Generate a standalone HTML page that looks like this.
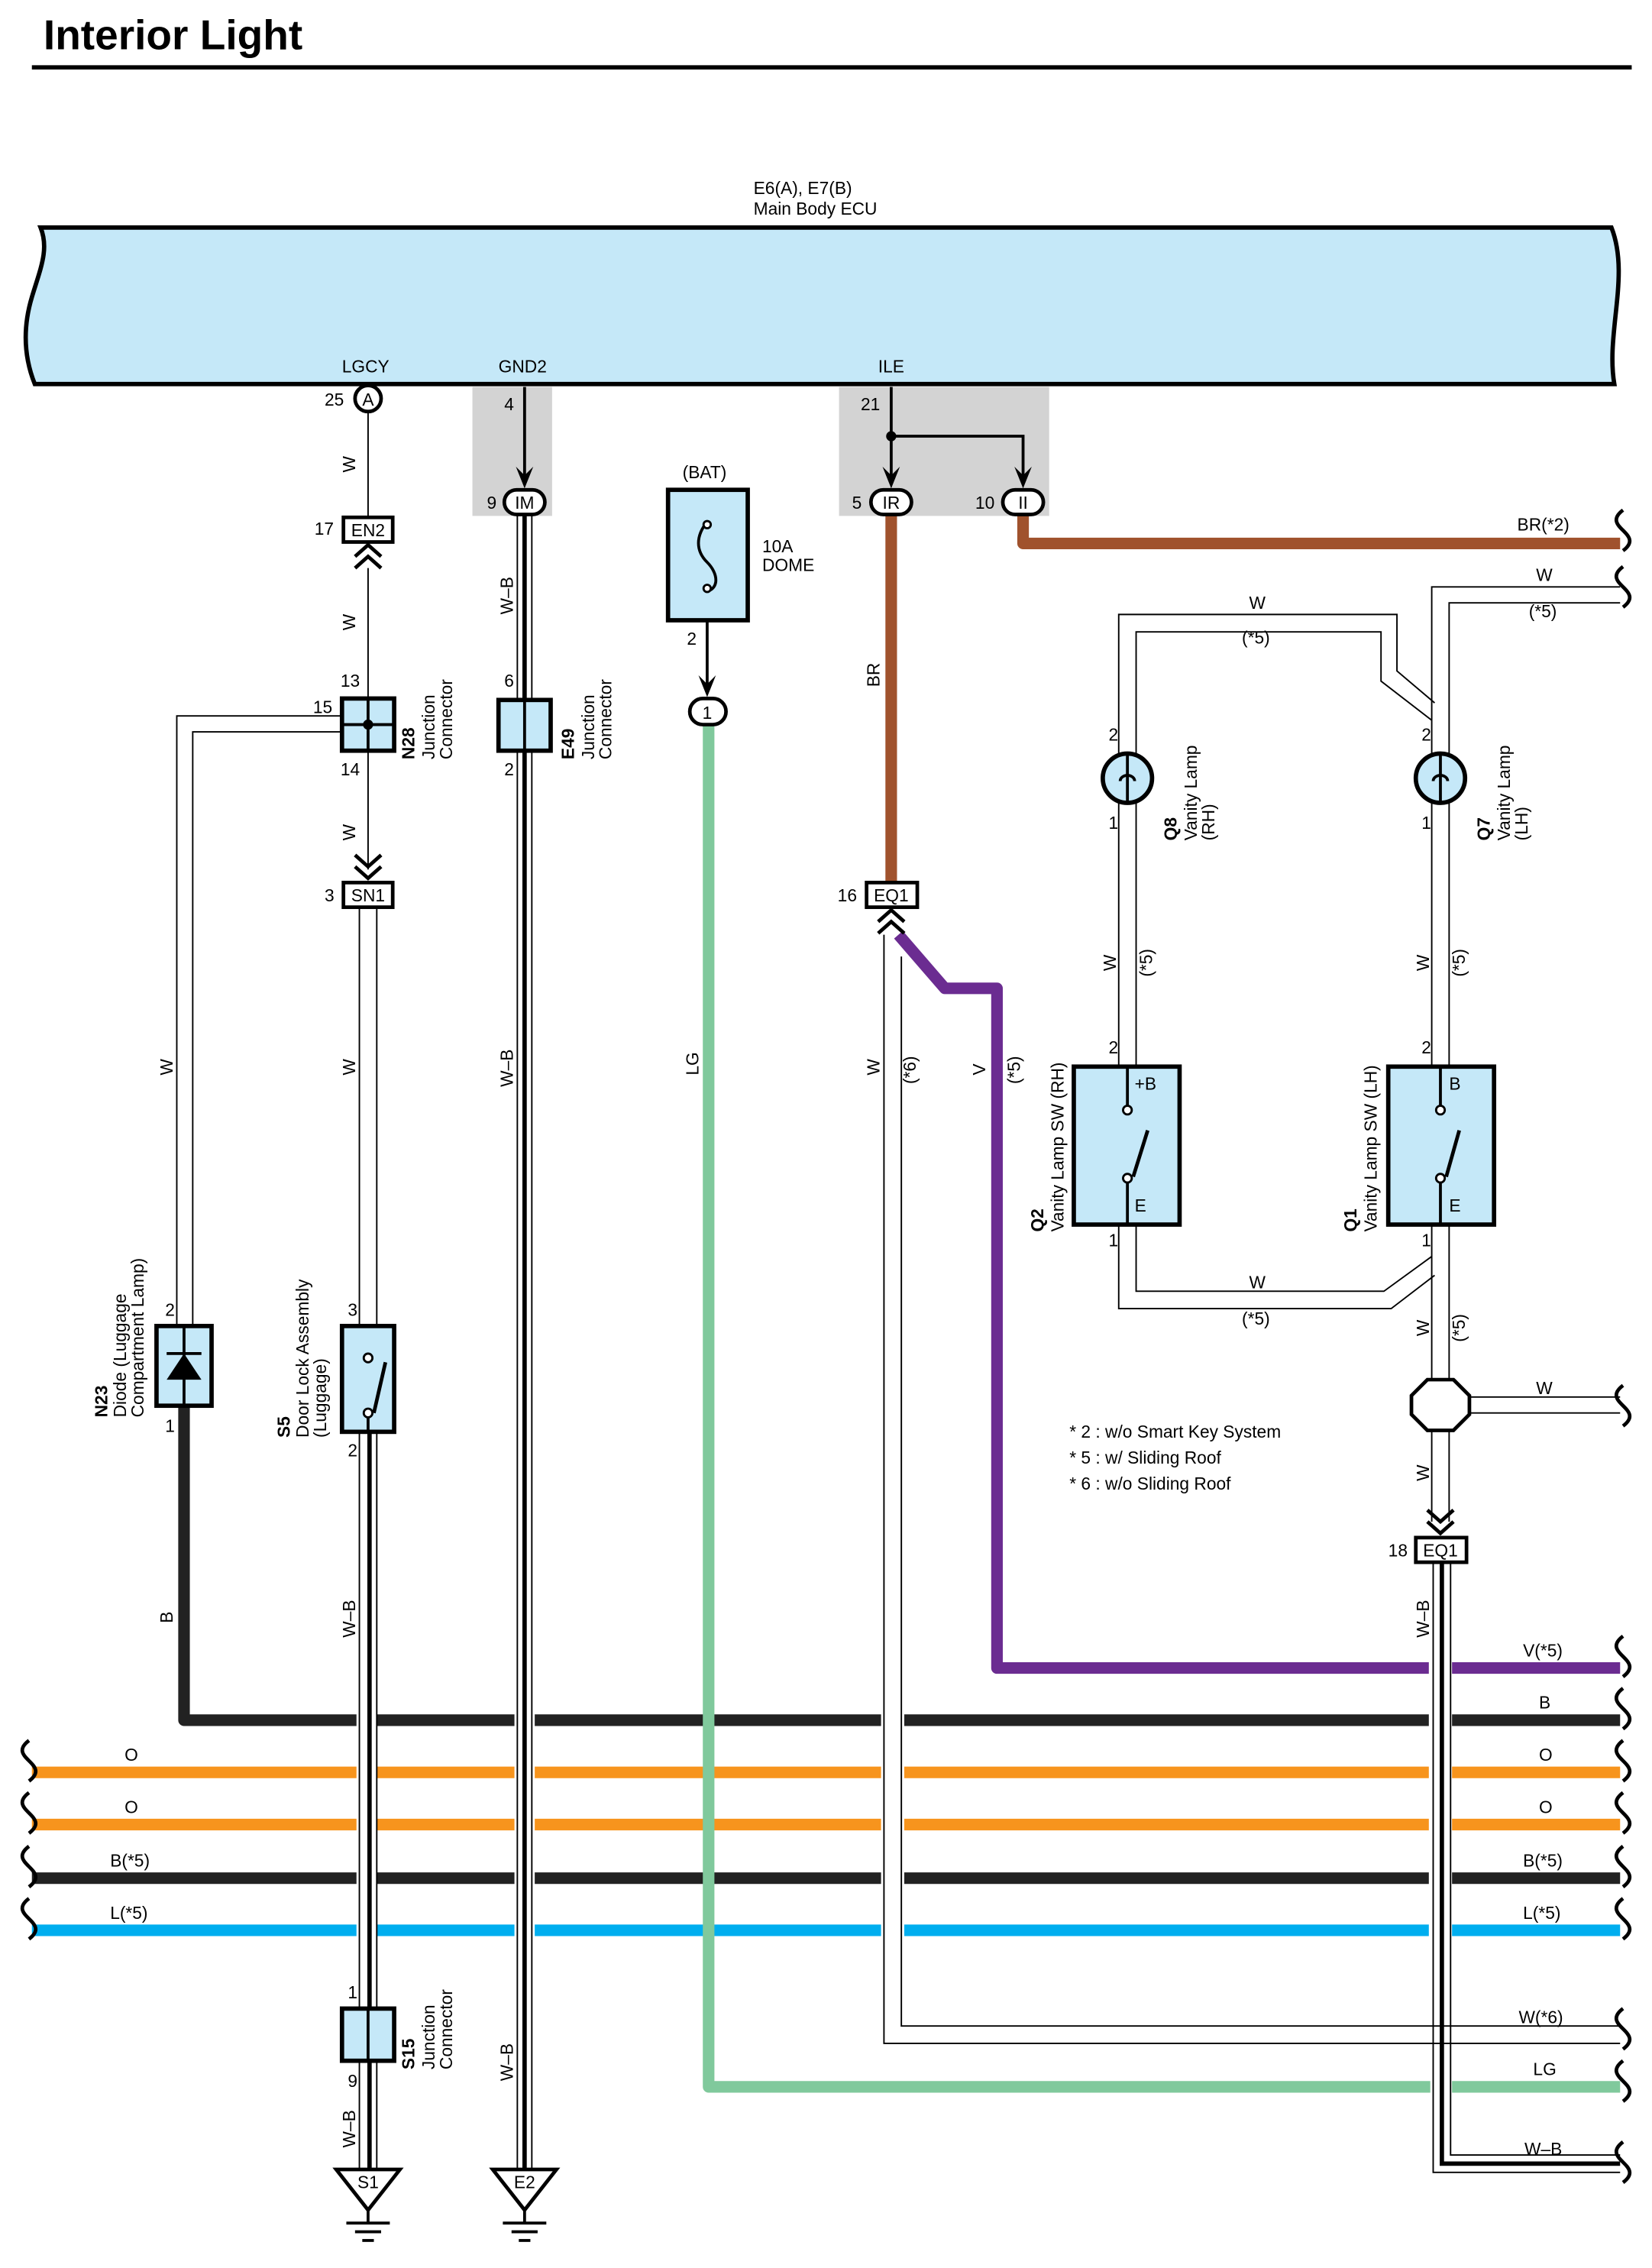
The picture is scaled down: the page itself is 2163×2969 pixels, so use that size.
<!DOCTYPE html>
<html><head><meta charset="utf-8"><style>
html,body{margin:0;padding:0;background:#fff}
svg{display:block}
text{font-family:"Liberation Sans",sans-serif;fill:#000}
</style></head><body>
<svg width="2163" height="2969" viewBox="0 0 1140 1565" preserveAspectRatio="none" xmlns="http://www.w3.org/2000/svg">
<defs>
<g id="wv"><path d="M0,-14 C-8,-8 -4,-4 0,0 C4,4 8,8 0,14" fill="none" stroke="#000" stroke-width="2.5"/></g>
</defs>
<text x="30" y="34" font-size="29" font-weight="bold">Interior Light</text>
<line x1="22" y1="46.5" x2="1126" y2="46.5" stroke="#000" stroke-width="3"/>

<text x="520" y="134" font-size="12">E6(A), E7(B)</text>
<text x="520" y="148" font-size="12">Main Body ECU</text>
<path d="M28,157 L1112,157 C1125,190 1108,230 1114,265 L24,265 C16,245 16,225 22,205 C28,185 34,172 28,157Z" fill="#c5e8f8" stroke="#000" stroke-width="3"/>
<text x="236" y="257" font-size="12">LGCY</text>
<text x="344" y="257" font-size="12">GND2</text>
<text x="606" y="257" font-size="12">ILE</text>

<rect x="326" y="267" width="55" height="89" fill="#d3d3d3"/>
<rect x="579" y="267" width="145" height="89" fill="#d3d3d3"/>

<g stroke-width="8" fill="none">
<line x1="22" y1="1223" x2="1118" y2="1223" stroke="#f7941d"/>
<line x1="22" y1="1259" x2="1118" y2="1259" stroke="#f7941d"/>
<line x1="22" y1="1296" x2="1118" y2="1296" stroke="#222"/>
<line x1="22" y1="1332" x2="1118" y2="1332" stroke="#00aeef"/>
<path d="M127,970 L127,1187 L1118,1187" stroke="#222" stroke-linejoin="round"/>
<path d="M706,356 L706,375 L1118,375" stroke="#a0522d" stroke-linejoin="round"/>
<line x1="615" y1="356" x2="615" y2="609" stroke="#a0522d"/>
<path d="M620,645 L652,682 L688,682 L688,1151 L1118,1151" stroke="#6b2c91" stroke-linejoin="round"/>
<path d="M489,500 L489,1440 L1118,1440" stroke="#80c99c" stroke-linejoin="round"/>
</g>
<g fill="#fff">
<rect x="246" y="1180" width="14" height="160"/>
<rect x="355" y="1180" width="14" height="160"/>
<rect x="608" y="1180" width="16" height="160"/>
<rect x="986" y="1145" width="16" height="195"/>
<rect x="987" y="1435" width="15" height="10"/>
</g>
<g>
<use href="#wv" x="1120" y="366"/><use href="#wv" x="1120" y="405"/>
<use href="#wv" x="1120" y="970"/>
<use href="#wv" x="1120" y="1143"/><use href="#wv" x="1120" y="1179"/><use href="#wv" x="1120" y="1215"/><use href="#wv" x="1120" y="1251"/><use href="#wv" x="1120" y="1288"/><use href="#wv" x="1120" y="1324"/>
<use href="#wv" x="1120" y="1400"/><use href="#wv" x="1120" y="1436"/><use href="#wv" x="1120" y="1492"/>
<use href="#wv" x="20" y="1215"/><use href="#wv" x="20" y="1251"/><use href="#wv" x="20" y="1288"/><use href="#wv" x="20" y="1324"/>
</g>

<g stroke="#000" stroke-width="1" fill="none">
<line x1="254" y1="284" x2="254" y2="357"/>
<line x1="254" y1="392" x2="254" y2="482"/>
<line x1="254" y1="518" x2="254" y2="600"/>
<line x1="248" y1="626" x2="248" y2="915"/><line x1="260" y1="626" x2="260" y2="915"/>
<path d="M236,494 L122,494 L122,915"/><path d="M236,505 L133,505 L133,915"/>
<line x1="248" y1="988" x2="248" y2="1386"/><line x1="260" y1="988" x2="260" y2="1386"/>
<line x1="248" y1="1422" x2="248" y2="1497"/><line x1="260" y1="1422" x2="260" y2="1497"/>
<line x1="357" y1="356" x2="357" y2="483"/><line x1="367" y1="356" x2="367" y2="483"/>
<line x1="357" y1="518" x2="357" y2="1497"/><line x1="367" y1="518" x2="367" y2="1497"/>
<path d="M610,645 L610,1410 L1118,1410"/>
<path d="M622,660 L622,1398 L1118,1398"/>
<path d="M772,522 L772,424 L964,424 L964,463 L990,485"/>
<path d="M784,522 L784,436 L953,436 L953,470 L988,497"/>
<path d="M988,522 L988,405 L1118,405"/>
<path d="M1000,522 L1000,416 L1118,416"/>
<line x1="772" y1="553" x2="772" y2="736"/><line x1="784" y1="553" x2="784" y2="736"/>
<line x1="988" y1="553" x2="988" y2="736"/><line x1="1000" y1="553" x2="1000" y2="736"/>
<path d="M784,845 L784,891 L955,891 L988,867"/>
<path d="M772,845 L772,903 L960,903 L990,880"/>
<line x1="988" y1="845" x2="988" y2="952"/><line x1="1000" y1="845" x2="1000" y2="952"/>
<path d="M1014,964 L1118,964"/><path d="M1014,975 L1118,975"/>
<line x1="988" y1="987" x2="988" y2="1050"/><line x1="1000" y1="987" x2="1000" y2="1050"/>
<path d="M989,1078 L989,1499 L1118,1499"/>
<path d="M1001,1078 L1001,1487 L1118,1487"/>
</g>
<g stroke="#000" stroke-width="3" fill="none">
<line x1="362" y1="356" x2="362" y2="483"/>
<line x1="362" y1="518" x2="362" y2="1497"/>
<line x1="255" y1="988" x2="255" y2="1497"/>
<path d="M995,1078 L995,1493 L1118,1493"/>
</g>
<g stroke="#000" stroke-width="2" fill="none">
<line x1="362" y1="267" x2="362" y2="330"/>
<path d="M615,267 L615,330 M615,301 L706,301 L706,330"/>
<line x1="488" y1="428" x2="488" y2="475"/>
</g>
<circle cx="615" cy="301" r="3.5"/>
<g fill="#000">
<path d="M356,322 L362,337 L368,322 L362,328Z"/>
<path d="M609,322 L615,337 L621,322 L615,328Z"/>
<path d="M700,322 L706,337 L712,322 L706,328Z"/>
<path d="M482,466 L488,481 L494,466 L488,472Z"/>
</g>
<g stroke="#000" stroke-width="2.5" fill="none">
<path d="M245,384 L254,376 L263,384 M245,392 L254,384 L263,392"/>
<path d="M245,590 L254,598 L263,590 M245,598 L254,606 L263,598"/>
<path d="M606,636 L615,628 L624,636 M606,644 L615,636 L624,644"/>
<path d="M985,1042 L994,1050 L1003,1042 M985,1050 L994,1058 L1003,1050"/>
</g>

<g stroke="#000" stroke-width="2.5" fill="#fff">
<circle cx="254" cy="275" r="9"/>
<rect x="348" y="338" width="28" height="17" rx="8.5"/>
<rect x="601" y="338" width="28" height="17" rx="8.5"/>
<rect x="692" y="338" width="28" height="17" rx="8.5"/>
<rect x="476" y="482" width="25" height="18" rx="9"/>
<rect x="237" y="357" width="34" height="17"/>
<rect x="237" y="609" width="34" height="17"/>
<rect x="598" y="609" width="35" height="17"/>
<rect x="977" y="1061" width="35" height="17"/>
<path d="M985,952 L1003,952 L1014,963 L1014,976 L1003,987 L985,987 L974,976 L974,963Z"/>
</g>
<g font-size="12" text-anchor="middle">
<text x="254" y="280">A</text><text x="362" y="351">IM</text><text x="615" y="351">IR</text><text x="706" y="351">II</text>
<text x="488" y="496">1</text><text x="254" y="370">EN2</text><text x="254" y="622">SN1</text><text x="615" y="622">EQ1</text><text x="994" y="1074">EQ1</text>
</g>

<g stroke="#000" stroke-width="3" fill="#c5e8f8">
<rect x="461" y="338" width="55" height="90"/>
<rect x="236" y="482" width="36" height="36"/>
<rect x="344" y="483" width="36" height="35"/>
<rect x="108" y="915" width="38" height="55"/>
<rect x="236" y="915" width="36" height="73"/>
<rect x="236" y="1386" width="36" height="36"/>
<rect x="741" y="736" width="73" height="109"/>
<rect x="958" y="736" width="73" height="109"/>
<circle cx="778" cy="537" r="17"/>
<circle cx="994" cy="537" r="17"/>
</g>
<g stroke="#000" stroke-width="2" fill="none">
<line x1="254" y1="482" x2="254" y2="518"/><line x1="236" y1="500" x2="272" y2="500"/>
<line x1="362" y1="483" x2="362" y2="518"/>
<line x1="254" y1="1386" x2="254" y2="1422"/>
<line x1="127" y1="915" x2="127" y2="970"/>
<path d="M488,360 C480,370 480,380 488,388 C496,396 496,406 488,408"/>
<line x1="778" y1="736" x2="778" y2="766"/><line x1="778" y1="812" x2="778" y2="845"/>
<line x1="782" y1="812" x2="792" y2="780" stroke-width="2.5"/>
<line x1="994" y1="736" x2="994" y2="766"/><line x1="994" y1="812" x2="994" y2="845"/>
<line x1="998" y1="812" x2="1007" y2="780" stroke-width="2.5"/>
<line x1="254" y1="988" x2="254" y2="975"/>
<line x1="258" y1="975" x2="266" y2="940" stroke-width="2.5"/>
<line x1="778" y1="520" x2="778" y2="554"/>
<path d="M773,539 a5,4 0 1 1 10,0"/>
<line x1="994" y1="520" x2="994" y2="554"/>
<path d="M989,539 a5,4 0 1 1 10,0"/>
</g>
<g fill="#fff" stroke="#000" stroke-width="1.5">
<circle cx="488" cy="362" r="2.5"/><circle cx="488" cy="406" r="2.5"/>
<circle cx="778" cy="766" r="3"/><circle cx="778" cy="813" r="3"/>
<circle cx="994" cy="766" r="3"/><circle cx="994" cy="813" r="3"/>
<circle cx="254" cy="937" r="3"/><circle cx="254" cy="975" r="3"/>
</g>
<circle cx="254" cy="500" r="3.5"/>
<path d="M115,952 L139,952 L127,934Z" fill="#000"/><line x1="115" y1="934" x2="139" y2="934" stroke="#000" stroke-width="2"/>

<g stroke="#000" stroke-width="2.5" fill="#fff">
<path d="M232,1497 L276,1497 L254,1525Z"/>
<path d="M340,1497 L384,1497 L362,1525Z"/>
</g>
<g stroke="#000" stroke-width="2">
<line x1="254" y1="1525" x2="254" y2="1534"/><line x1="239" y1="1534" x2="269" y2="1534"/><line x1="245" y1="1540" x2="263" y2="1540"/><line x1="250" y1="1546" x2="258" y2="1546"/>
<line x1="362" y1="1525" x2="362" y2="1534"/><line x1="347" y1="1534" x2="377" y2="1534"/><line x1="353" y1="1540" x2="371" y2="1540"/><line x1="358" y1="1546" x2="366" y2="1546"/>
</g>
<g font-size="12" text-anchor="middle"><text x="254" y="1510">S1</text><text x="362" y="1510">E2</text></g>

<g font-size="12">
<text x="224" y="280">25</text><text x="348" y="283">4</text><text x="336" y="351">9</text>
<text x="594" y="283">21</text><text x="588" y="351">5</text><text x="673" y="351">10</text>
<text x="217" y="369">17</text><text x="235" y="474">13</text><text x="216" y="492">15</text><text x="235" y="535">14</text>
<text x="224" y="622">3</text><text x="348" y="474">6</text><text x="348" y="535">2</text>
<text x="474" y="445">2</text><text x="578" y="622">16</text>
<text x="471" y="330">(BAT)</text><text x="526" y="381">10A</text><text x="526" y="394">DOME</text>
<text x="765" y="511">2</text><text x="765" y="572">1</text><text x="981" y="511">2</text><text x="981" y="572">1</text>
<text x="765" y="727">2</text><text x="765" y="860">1</text><text x="981" y="727">2</text><text x="981" y="860">1</text>
<text x="783" y="752">+B</text><text x="783" y="836">E</text><text x="1000" y="752">B</text><text x="1000" y="836">E</text>
<text x="114" y="908">2</text><text x="114" y="988">1</text><text x="240" y="908">3</text><text x="240" y="1005">2</text>
<text x="240" y="1379">1</text><text x="240" y="1440">9</text><text x="958" y="1074">18</text>
<text x="862" y="420">W</text><text x="857" y="444">(*5)</text>
<text x="1060" y="401">W</text><text x="1055" y="426">(*5)</text>
<text x="862" y="889">W</text><text x="857" y="914">(*5)</text>
<text x="1060" y="962">W</text>
<text x="1047" y="366">BR(*2)</text>
<text x="1051" y="1143">V(*5)</text><text x="1062" y="1179">B</text><text x="1062" y="1215">O</text><text x="1062" y="1251">O</text>
<text x="1051" y="1288">B(*5)</text><text x="1051" y="1324">L(*5)</text>
<text x="1048" y="1396">W(*6)</text><text x="1058" y="1432">LG</text><text x="1052" y="1487">W–B</text>
<text x="86" y="1215">O</text><text x="86" y="1251">O</text><text x="76" y="1288">B(*5)</text><text x="76" y="1324">L(*5)</text>
<text x="738" y="992">* 2 : w/o Smart Key System</text>
<text x="738" y="1010">* 5 : w/ Sliding Roof</text>
<text x="738" y="1028">* 6 : w/o Sliding Roof</text>
</g>
<g font-size="12">
<text transform="translate(245,326) rotate(-90)">W</text>
<text transform="translate(245,435) rotate(-90)">W</text>
<text transform="translate(245,580) rotate(-90)">W</text>
<text transform="translate(245,742) rotate(-90)">W</text>
<text transform="translate(119,742) rotate(-90)">W</text>
<text transform="translate(119,1120) rotate(-90)">B</text>
<text transform="translate(245,1130) rotate(-90)">W–B</text>
<text transform="translate(245,1482) rotate(-90)">W–B</text>
<text transform="translate(354,424) rotate(-90)">W–B</text>
<text transform="translate(354,750) rotate(-90)">W–B</text>
<text transform="translate(354,1436) rotate(-90)">W–B</text>
<text transform="translate(482,742) rotate(-90)">LG</text>
<text transform="translate(607,474) rotate(-90)">BR</text>
<text transform="translate(607,742) rotate(-90)">W</text>
<text transform="translate(632,748) rotate(-90)">(*6)</text>
<text transform="translate(680,742) rotate(-90)">V</text>
<text transform="translate(704,748) rotate(-90)">(*5)</text>
<text transform="translate(770,670) rotate(-90)">W</text>
<text transform="translate(795,674) rotate(-90)">(*5)</text>
<text transform="translate(986,670) rotate(-90)">W</text>
<text transform="translate(1011,674) rotate(-90)">(*5)</text>
<text transform="translate(986,922) rotate(-90)">W</text>
<text transform="translate(1011,926) rotate(-90)">(*5)</text>
<text transform="translate(986,1022) rotate(-90)">W</text>
<text transform="translate(986,1130) rotate(-90)">W–B</text>
<text transform="translate(286,524) rotate(-90)" font-weight="bold">N28</text>
<text transform="translate(300,524) rotate(-90)">Junction</text>
<text transform="translate(312,524) rotate(-90)">Connector</text>
<text transform="translate(396,524) rotate(-90)" font-weight="bold">E49</text>
<text transform="translate(410,524) rotate(-90)">Junction</text>
<text transform="translate(422,524) rotate(-90)">Connector</text>
<text transform="translate(286,1428) rotate(-90)" font-weight="bold">S15</text>
<text transform="translate(300,1428) rotate(-90)">Junction</text>
<text transform="translate(312,1428) rotate(-90)">Connector</text>
<text transform="translate(74,978) rotate(-90)" font-weight="bold">N23</text>
<text transform="translate(87,978) rotate(-90)">Diode (Luggage</text>
<text transform="translate(99,978) rotate(-90)">Compartment Lamp)</text>
<text transform="translate(200,992) rotate(-90)" font-weight="bold">S5</text>
<text transform="translate(213,992) rotate(-90)">Door Lock Assembly</text>
<text transform="translate(225,992) rotate(-90)">(Luggage)</text>
<text transform="translate(812,580) rotate(-90)" font-weight="bold">Q8</text>
<text transform="translate(826,580) rotate(-90)">Vanity Lamp</text>
<text transform="translate(838,580) rotate(-90)">(RH)</text>
<text transform="translate(1028,580) rotate(-90)" font-weight="bold">Q7</text>
<text transform="translate(1042,580) rotate(-90)">Vanity Lamp</text>
<text transform="translate(1054,580) rotate(-90)">(LH)</text>
<text transform="translate(720,850) rotate(-90)" font-weight="bold">Q2</text>
<text transform="translate(734,850) rotate(-90)">Vanity Lamp SW (RH)</text>
<text transform="translate(936,850) rotate(-90)" font-weight="bold">Q1</text>
<text transform="translate(950,850) rotate(-90)">Vanity Lamp SW (LH)</text>
</g>
</svg>
</body></html>
